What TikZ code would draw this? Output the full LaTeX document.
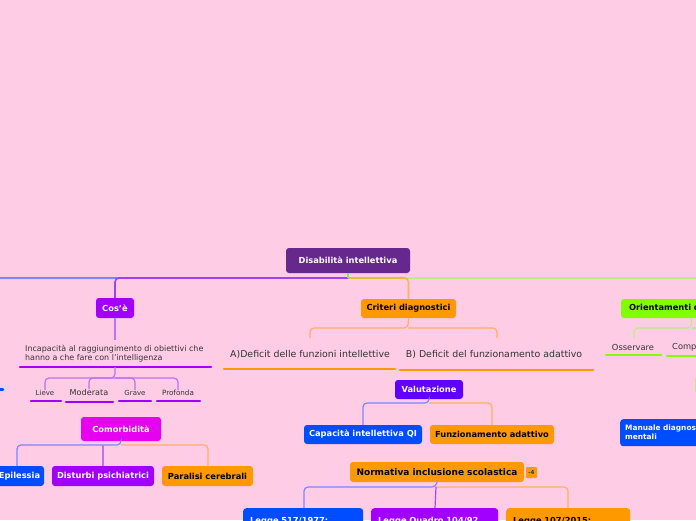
\documentclass[tikz,border=0pt]{standalone}
\usepackage{fontspec}
\setmainfont{DejaVu Sans}
\definecolor{bg}{HTML}{FFCCE5}
\definecolor{rootc}{HTML}{66288C}
\definecolor{viol}{HTML}{A100FF}
\definecolor{magc}{HTML}{E800F0}
\definecolor{bluec}{HTML}{004CFF}
\definecolor{orc}{HTML}{FF9900}
\definecolor{valc}{HTML}{6200FF}
\definecolor{grc}{HTML}{80FF00}
\definecolor{lviol}{HTML}{C070F0}
\definecolor{lor}{HTML}{FFB060}
\definecolor{lblue}{HTML}{7A86FF}
\definecolor{lgr}{HTML}{B8F080}
\definecolor{txt}{HTML}{333333}
\tikzset{
  box/.style={rounded corners=3pt, inner sep=0pt, font=\bfseries\fontsize{8.3}{10}\selectfont, text=white},
  ubar/.style={line width=2.6pt, line cap=round},
  conn/.style={line width=1.2pt, rounded corners=4pt},
  lbl/.style={inner sep=0pt, text=txt},
}
\begin{document}
\begin{tikzpicture}[x=1pt,y=-1pt]
\useasboundingbox (0,0) rectangle (696,520);
\fill[bg] (0,0) rectangle (696,520);
\clip (0,0) rectangle (696,520);

% root
\node[box, fill=rootc, minimum width=124pt, minimum height=25pt] (root) at (348,260.5) {Disabilità intellettiva};
\coordinate (hub) at (348,278);

% first level
\node[box, fill=viol, minimum width=38pt, minimum height=20pt] (cos) at (115,308) {Cos'è};
\node[box, fill=orc, text=black, minimum width=95pt, minimum height=19pt] (crit) at (408.5,308.5) {Criteri diagnostici};
\node[box, fill=grc, text=black, minimum width=141pt, minimum height=19pt, text width=125pt, align=left] (orient) at (691.5,308.5) {Orientamenti diagnostici};

% main connectors
\draw[line width=1.6pt, lblue] (hub) -- (-10,278);
\draw[line width=1.6pt, lgr] (hub) -- (710,278);
\draw[line width=1.6pt, rounded corners=4pt, color={rgb,255:red,160;green,64;blue,255}] (hub) -| (cos.north);
\draw[line width=1.6pt, rounded corners=4pt, orc, opacity=0.55] (hub) -| (crit.north);
\draw[line width=1.6pt, lgr!60!green] (root.south) -- (hub);

% Cos'e subtree
\node[lbl, anchor=west, align=left, font=\fontsize{7.95}{9.2}\selectfont] (incap) at (25,353.5) {Incapacità al raggiungimento di obiettivi che\\hanno a che fare con l'intelligenza};
\coordinate (incapbar) at (115,367);
\draw[conn, lviol] (cos.south) -- (115,340);
\draw[ubar, viol] (20,367) -- (211,367);
\node[lbl, font=\fontsize{7}{8}\selectfont] (lieve) at (45,393) {Lieve};
\node[lbl, font=\fontsize{8.1}{9}\selectfont] (moder) at (89,392.5) {Moderata};
\node[lbl, font=\fontsize{7}{8}\selectfont] (grave) at (135,393) {Grave};
\node[lbl, font=\fontsize{7.2}{8}\selectfont] (prof) at (178,393) {Profonda};
\coordinate (lvsplit) at (115,378);
\draw[conn, lviol] (incapbar) -- (lvsplit) -| (lieve.north);
\draw[conn, lviol] (lvsplit) -| (moder.north);
\draw[conn, lviol] (lvsplit) -| (prof.north);
\draw[conn, lviol] (lvsplit) -| (grave.north);
\draw[ubar, viol] (31,401) -- (61,401);
\draw[ubar, viol] (66,402) -- (113,402);
\draw[ubar, viol] (119,401) -- (151,401);
\draw[ubar, viol] (157,401) -- (200,401);
\draw[ubar, bluec] (-5,389.5) -- (3,389.5);

% Comorbidita
\node[box, fill=magc, minimum width=80pt, minimum height=24pt] (como) at (121,429) {Comorbidità};
\node[box, fill=bluec, minimum width=49pt, minimum height=20pt] (epil) at (19.5,476) {Epilessia};
\node[box, fill=viol, minimum width=102pt, minimum height=20pt] (dist) at (103,476) {Disturbi psichiatrici};
\node[box, fill=orc, text=black, minimum width=91pt, minimum height=20pt] (para) at (207.5,476) {Paralisi cerebrali};
\coordinate (cosplit) at (121,445);
\draw[conn, lblue] (como.south) -- (cosplit) -| (17,466);
\draw[conn, lor] (cosplit) -| (208,466);
\draw[conn, lviol] (103,445) -- (dist.north);

% Criteri subtree
\node[lbl, font=\fontsize{9.4}{10}\selectfont] (defa) at (310,355) {A)Deficit delle funzioni intellettive};
\node[lbl, font=\fontsize{9.4}{10}\selectfont] (defb) at (494,355) {B) Deficit del funzionamento adattivo};
\coordinate (crsplit) at (408,328);
\draw[conn, lor] (crit.south) -- (crsplit) -| (310,338);
\draw[conn, lor] (crsplit) -| (497,338);
\draw[ubar, orc] (224,369) -- (395,369);
\draw[ubar, orc] (400,370) -- (593,370);

% Valutazione
\node[box, fill=valc, minimum width=68pt, minimum height=19pt] (valu) at (429,389.5) {Valutazione};
\node[box, fill=bluec, minimum width=118pt, minimum height=19pt] (capa) at (363,434.5) {Capacità intellettiva QI};
\node[box, fill=orc, text=black, minimum width=124pt, minimum height=19pt] (funz) at (492,434.5) {Funzionamento adattivo};
\coordinate (vasplit) at (429,403);
\draw[conn, lblue] (valu.south) -- (vasplit) -| (capa.north);
\draw[conn, lor] (vasplit) -| (funz.north);

% Normativa
\node[box, fill=orc, text=black, minimum width=174pt, minimum height=20pt, font=\bfseries\fontsize{9}{10}\selectfont] (norm) at (437,472) {Normativa inclusione scolastica};
\node[fill=orc, rounded corners=1pt, minimum width=11pt, minimum height=11pt, inner sep=0pt, font=\bfseries\fontsize{5.5}{6}\selectfont, text=txt] (icon) at (531.5,472.5) {-4};
\node[box, fill=bluec, minimum width=120pt, minimum height=34pt, text width=106pt, align=left, anchor=north west] (l517) at (243,508) {Legge 517/1977:\\\ };
\node[box, fill=viol, minimum width=127pt, minimum height=34pt, text width=113pt, align=left, anchor=north west] (l104) at (371,508) {Legge Quadro 104/92\\\ };
\node[box, fill=orc, text=black, minimum width=124pt, minimum height=34pt, text width=110pt, align=left, anchor=north west] (l107) at (506,508) {Legge 107/2015:\\\ };
\coordinate (nosplit) at (436,487);
\draw[conn, lblue] (norm.south) -- (nosplit) -| (304,508);
\draw[conn, lor] (nosplit) -| (568,508);
\draw[conn, color={rgb,255:red,170;green,70;blue,240}] (nosplit) -- (435,508);

% Orientamenti subtree
\node[lbl, font=\fontsize{8.3}{10}\selectfont] (oss) at (633,347) {Osservare};
\node[lbl, anchor=west, font=\fontsize{8.3}{10}\selectfont] (comp) at (672,347) {Comp};
\coordinate (orsplit) at (691.5,328);
\draw[conn, lgr] (orient.south) -- (orsplit) -| (634,338);
\draw[conn, lgr] (orsplit) -- (710,328);
\draw[ubar, grc] (606,355) -- (661,355);
\draw[ubar, grc] (667,356) -- (705,356);
\draw[line width=1pt, lgr] (695.5,378) -- (695.5,392);
\node[box, fill=bluec, minimum width=190pt, minimum height=27pt, text width=180pt, align=left, anchor=north west, font=\bfseries\fontsize{7.4}{9}\selectfont] (manu) at (620,419) {Manuale diagnostico e statistico\\mentali};
\end{tikzpicture}
\end{document}
